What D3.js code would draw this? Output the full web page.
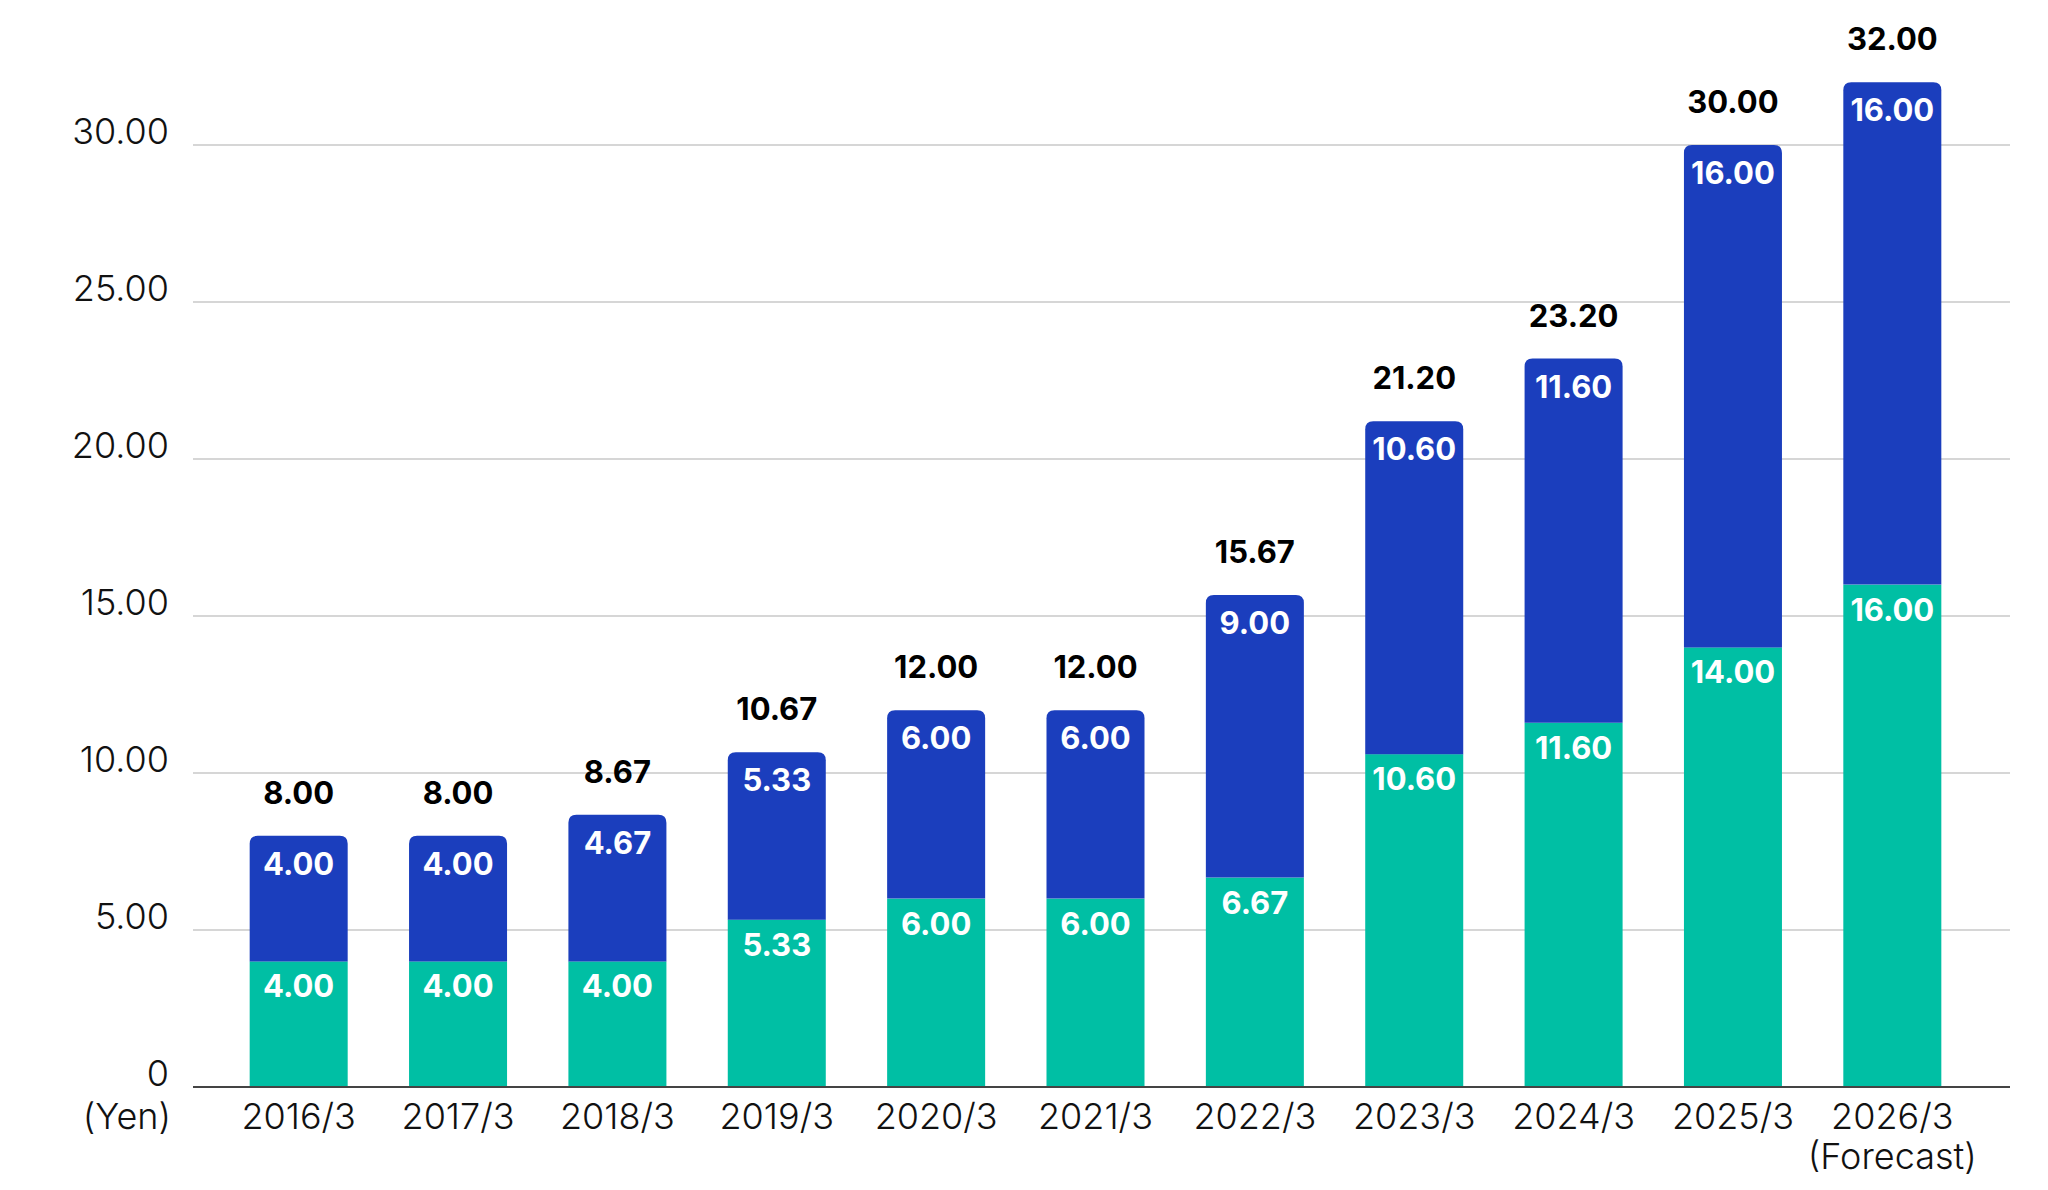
<!DOCTYPE html>
<html>
<head>
<meta charset="utf-8">
<script src="https://cdn.jsdelivr.net/npm/d3@7"></script>
<style>
  body { margin: 0; background: #fff; }
  svg { display: block; }
  .tick-label { font-family: "Inter", "Roboto", "Liberation Sans", sans-serif; font-weight: 300; fill: #111; }
  .val { font-family: "Inter", "Liberation Sans", sans-serif; font-weight: 700; }
</style>
</head>
<body>
<svg id="chart"></svg>
<script>
const categories = ["2016/3", "2017/3", "2018/3", "2019/3", "2020/3", "2021/3",
  "2022/3", "2023/3", "2024/3", "2025/3", "2026/3"];
const interim = [4.0, 4.0, 4.0, 5.33, 6.0, 6.0, 6.67, 10.6, 11.6, 14.0, 16.0];
const yearEnd = [4.0, 4.0, 4.67, 5.33, 6.0, 6.0, 9.0, 10.6, 11.6, 16.0, 16.0];
const totals = [8.0, 8.0, 8.67, 10.67, 12.0, 12.0, 15.67, 21.2, 23.2, 30.0, 32.0];
const yTicks = [0, 5, 10, 15, 20, 25, 30];

const width = 2048;
const height = 1190;
const gridLeft = 193;
const gridRight = 2010;
const colors = { interim: "#00bfa4", yearEnd: "#1b3ebd" };

const svg = d3.select("#chart").attr("width", width).attr("height", height);

const x = d3.scaleBand()
  .domain(categories)
  .range([219, 1972])
  .paddingInner(0.385)
  .paddingOuter(0.1925);

const y = d3.scaleLinear().domain([0, 30]).range([1087, 145]);

const data = categories.map((c, i) => ({
  cat: c, a: interim[i], b: yearEnd[i], total: totals[i],
}));

// gridlines + y labels
const grid = svg.append("g");
grid.selectAll("line")
  .data(yTicks.filter((t) => t > 0))
  .enter()
  .append("line")
  .attr("x1", gridLeft)
  .attr("x2", gridRight)
  .attr("y1", (d) => y(d))
  .attr("y2", (d) => y(d))
  .attr("stroke", "#c9c9c9")
  .attr("stroke-width", 1.5);

grid.selectAll("text")
  .data(yTicks)
  .enter()
  .append("text")
  .attr("class", "tick-label")
  .attr("x", 169)
  .attr("y", (d) => y(d) - 1)
  .attr("text-anchor", "end")
  .attr("font-size", 36)
  .text((d) => (d === 0 ? "0" : d3.format(".2f")(d)));

// bars
const bw = x.bandwidth();
const r = 8;
const bars = svg.append("g").selectAll("g").data(data).enter().append("g");

bars.append("rect")
  .attr("x", (d) => x(d.cat))
  .attr("y", (d) => y(d.a))
  .attr("width", bw)
  .attr("height", (d) => y(0) - y(d.a))
  .attr("fill", colors.interim);

bars.append("path")
  .attr("fill", colors.yearEnd)
  .attr("d", (d) => {
    const x0 = x(d.cat);
    const x1 = x0 + bw;
    const yb = y(d.a);
    const yt = y(d.a + d.b);
    return `M${x0},${yb} V${yt + r} Q${x0},${yt} ${x0 + r},${yt} H${x1 - r} Q${x1},${yt} ${x1},${yt + r} V${yb} Z`;
  });

const cx = (d) => x(d.cat) + bw / 2;

bars.append("text")
  .attr("class", "val")
  .attr("x", cx)
  .attr("y", (d) => y(d.a + d.b) + 39)
  .attr("text-anchor", "middle")
  .attr("font-size", 31)
  .attr("fill", "#fff")
  .text((d) => d3.format(".2f")(d.b));

bars.append("text")
  .attr("class", "val")
  .attr("x", cx)
  .attr("y", (d) => y(d.a) + 36)
  .attr("text-anchor", "middle")
  .attr("font-size", 31)
  .attr("fill", "#fff")
  .text((d) => d3.format(".2f")(d.a));

bars.append("text")
  .attr("class", "val")
  .attr("x", cx)
  .attr("y", (d) => y(d.a + d.b) - 32)
  .attr("text-anchor", "middle")
  .attr("font-size", 31)
  .attr("fill", "#000")
  .text((d) => d3.format(".2f")(d.total));

// baseline
svg.append("line")
  .attr("x1", gridLeft)
  .attr("x2", gridRight)
  .attr("y1", y(0))
  .attr("y2", y(0))
  .attr("stroke", "#444")
  .attr("stroke-width", 2);

// x labels
const xl = svg.append("g").selectAll("text").data(data).enter()
  .append("text")
  .attr("class", "tick-label")
  .attr("x", cx)
  .attr("y", 1129)
  .attr("text-anchor", "middle")
  .attr("font-size", 36);
xl.append("tspan").text((d) => d.cat);
xl.filter((d, i) => i === categories.length - 1)
  .append("tspan")
  .attr("x", cx)
  .attr("dy", 40)
  .text("(Forecast)");

svg.append("text")
  .attr("class", "tick-label")
  .attr("x", 171)
  .attr("y", 1129)
  .attr("text-anchor", "end")
  .attr("font-size", 36)
  .text("(Yen)");
</script>
</body>
</html>
